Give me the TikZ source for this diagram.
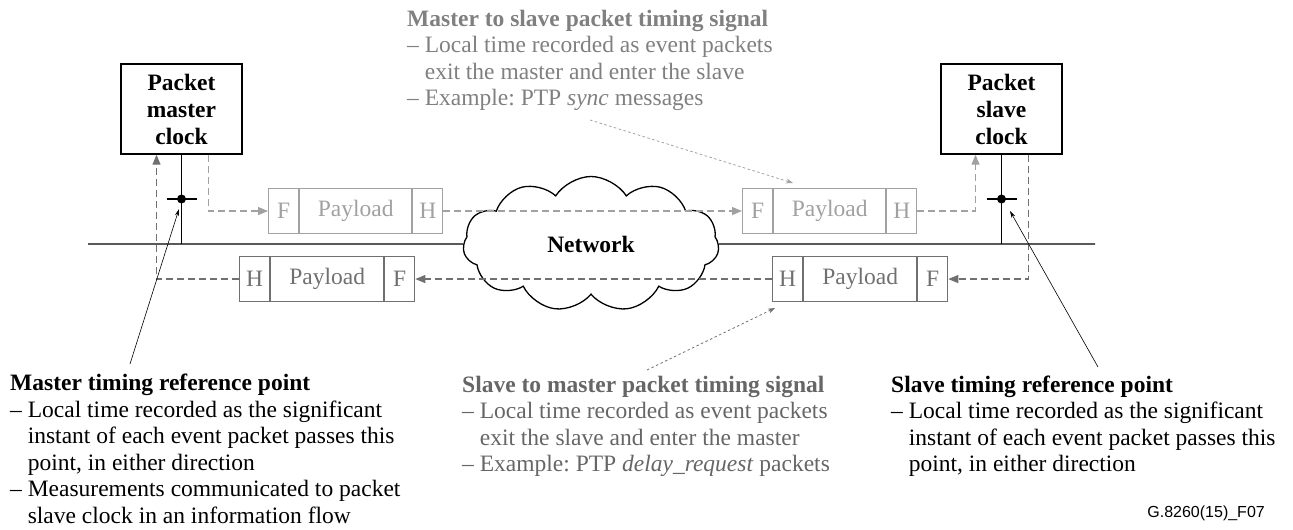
\documentclass[tikz,border=0pt]{standalone}
\usepackage{fontspec}
\setmainfont{Liberation Serif}
\newfontfamily\figfont{Liberation Sans}
\usetikzlibrary{positioning,shapes.symbols,arrows.meta}
\definecolor{msgray}{gray}{0.63}
\definecolor{smgray}{gray}{0.44}
\definecolor{mstext}{gray}{0.50}
\definecolor{smtext}{gray}{0.40}
\frenchspacing

\begin{document}
\begin{tikzpicture}[x=1pt,y=-1pt,
  clockbox/.style={draw,line width=1.4pt,minimum width=121pt,minimum height=90pt,inner sep=0pt,align=center,font=\fontsize{23.5}{27}\selectfont\bfseries},
  cell/.style={draw,line width=1.1pt,minimum height=45pt,inner sep=0pt,font=\fontsize{23.5}{27}\selectfont},
  flow/.style={line width=1.2pt,dash pattern=on 7pt off 4pt,-{Triangle[length=10pt,width=8pt]}},
  note/.style={anchor=base west,align=left,inner sep=0pt,font=\fontsize{23.5}{26.5}\selectfont},
  pointer/.style={line width=0.6pt,-{Stealth[length=7pt,width=4pt]}},
  hint/.style={line width=0.8pt,dash pattern=on 2.5pt off 2.5pt,-{Stealth[length=7pt,width=5pt]}}]
\useasboundingbox (0,0) rectangle (1293,530);
%clocks
\node[clockbox] (mclk) at (181.5,109) {Packet\\master\\clock};
\node[clockbox] (sclk) at (1001.5,109) {Packet\\slave\\clock};
%network
\coordinate (netL) at (88,244);
\coordinate (netR) at (1095,244);
\node[cloud,draw,line width=1.3pt,cloud puffs=11,cloud puff arc=115,aspect=1.9,minimum width=256pt,minimum height=135pt,
  font=\fontsize{23.5}{27}\selectfont\bfseries] (net) at (591,244) {Network};
\draw[line width=1.4pt] (netL) -- (net.180);
\draw[line width=1.4pt] (net.0) -- (netR);
%taps
\draw[line width=1.4pt] (mclk.south) -- (mclk.south |- netL);
\draw[line width=1.4pt] (sclk.south) -- (sclk.south |- netR);
\node[circle,fill,inner sep=0pt,minimum size=9pt] (mdot) at (181.5,199) {};
\node[circle,fill,inner sep=0pt,minimum size=9pt] (sdot) at (1001.5,199) {};
\draw[line width=1.2pt] ([xshift=-15pt]mdot.center) -- ([xshift=15pt]mdot.center);
\draw[line width=1.2pt] ([xshift=-15pt]sdot.center) -- ([xshift=15pt]sdot.center);
%%%% master to slave packets
\node[cell,msgray,minimum width=30pt,anchor=north west] (tlF) at (268,188) {F};
\node[cell,msgray,minimum width=112pt,right=0pt of tlF] (tlP) {Payload};
\node[cell,msgray,minimum width=30pt,right=0pt of tlP] (tlH) {H};
\node[cell,msgray,minimum width=30pt,anchor=north west] (trF) at (742,188) {F};
\node[cell,msgray,minimum width=112pt,right=0pt of trF] (trP) {Payload};
\node[cell,msgray,minimum width=30pt,right=0pt of trP] (trH) {H};
%%%% slave to master packets
\node[cell,smgray,minimum width=30pt,anchor=north west] (blH) at (239,256) {H};
\node[cell,smgray,minimum width=113pt,right=0pt of blH] (blP) {Payload};
\node[cell,smgray,minimum width=30pt,right=0pt of blP] (blF) {F};
\node[cell,smgray,minimum width=30pt,anchor=north west] (brH) at (772,256) {H};
\node[cell,smgray,minimum width=113pt,right=0pt of brH] (brP) {Payload};
\node[cell,smgray,minimum width=30pt,right=0pt of brP] (brF) {F};
%flows
\draw[flow,msgray] ([xshift=-34pt]mclk.south east) |- (tlF.west);
\draw[flow,msgray] (tlH.east) -- (trF.west);
\draw[flow,msgray] (trH.east) -| ([xshift=-26pt]sclk.south);
\draw[flow,smgray] ([xshift=27pt]sclk.south) |- (brF.east);
\draw[flow,smgray] (brH.west) -- (blF.east);
\draw[flow,smgray] (blH.west) -| ([xshift=-25pt]mclk.south);
%texts (anchored at the last baseline)
\node[note,mstext] (mssig) at (407,105.5) {\textbf{Master to slave packet timing signal}\\
  – Local time recorded as event packets\\
  \phantom{– }exit the master and enter the slave\\
  – Example: PTP \textit{sync} messages};
\node[note] (mref) at (10,523) {\textbf{Master timing reference point}\\
  – Local time recorded as the significant\\
  \phantom{– }instant of each event packet passes this\\
  \phantom{– }point, in either direction\\
  – Measurements communicated to packet\\
  \phantom{– }slave clock in an information flow};
\node[note,smtext] (smsig) at (462,471.5) {\textbf{Slave to master packet timing signal}\\
  – Local time recorded as event packets\\
  \phantom{– }exit the slave and enter the master\\
  – Example: PTP \textit{delay\_request} packets};
\node[note] (sref) at (891,471.5) {\textbf{Slave timing reference point}\\
  – Local time recorded as the significant\\
  \phantom{– }instant of each event packet passes this\\
  \phantom{– }point, in either direction};
\node[anchor=base east,inner sep=0pt,font=\figfont\fontsize{16}{18}\selectfont] (figid) at (1265,517) {G.8260(15)\_F07};
%leaders
\coordinate (mrefend) at (130,364);
\coordinate (mreftip) at (179,209);
\coordinate (srefend) at (1098,367);
\coordinate (sreftip) at (1010,211);
\coordinate (msend) at (590,120);
\coordinate (mstip) at (793,183);
\coordinate (smend) at (647,370);
\coordinate (smtip) at (775,308);
\draw[pointer] (mrefend) -- (mreftip);
\draw[pointer] (srefend) -- (sreftip);
\draw[hint,msgray] (msend) -- (mstip);
\draw[hint,smgray] (smend) -- (smtip);
\end{tikzpicture}
\end{document}
